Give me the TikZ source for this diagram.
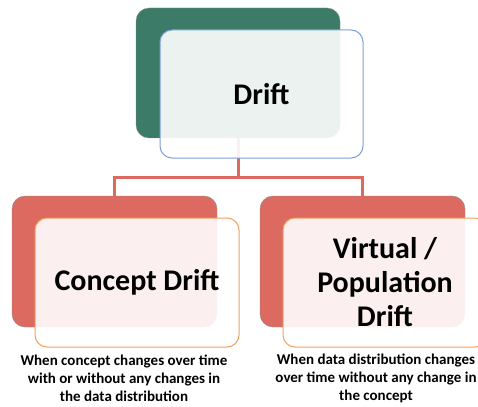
\documentclass[tikz,border=0pt]{standalone}
\usepackage{fontspec}
\setmainfont{Carlito}
\definecolor{driftgreen}{HTML}{3B7B68}
\definecolor{driftblue}{HTML}{7E9FD9}
\definecolor{driftred}{HTML}{DC6A60}
\definecolor{driftorange}{HTML}{F2A05E}
\begin{document}
\begin{tikzpicture}[x=1pt, y=-1pt,
  backbox/.style={draw=black!45, line width=0.4pt, rounded corners=13pt, inner sep=0pt},
  frontbox/.style={draw, line width=1pt, rounded corners=12pt, fill=white, fill opacity=0.9,
    text opacity=1, inner sep=0pt, align=center, font=\fontsize{30}{34}\selectfont\bfseries,
    minimum width=204pt, minimum height=129pt},
  link/.style={driftred, line width=3pt},
  caption/.style={align=center, font=\fontsize{15}{18}\selectfont\bfseries}]
  \useasboundingbox (0, 0) rectangle (478, 406);
  \clip (0, 0) rectangle (478, 406);
  \node [backbox, fill=driftgreen, minimum width=204pt, minimum height=130pt] (driftback) at (238, 73) {};
  \node [backbox, fill=driftred, minimum width=205pt, minimum height=131pt] (conceptback) at (114.5, 261.5) {};
  \node [backbox, fill=driftred, minimum width=205pt, minimum height=131pt] (virtualback) at (362.5, 261.5) {};
  \coordinate (fork) at (238, 177);
  \draw [link] (driftback.south) -- (fork);
  \draw [link] (fork) -| (conceptback.north);
  \draw [link] (fork) -| (virtualback.north);
  \node [frontbox, draw=driftblue, minimum width=203pt, minimum height=128pt] (drift) at (261.5, 94) {Drift};
  \node [frontbox, draw=driftorange] (concept) at (137, 282.5) {Concept Drift};
  \node [frontbox, draw=driftorange] (virtual) at (385, 282.5) {Virtual /\\Population\\Drift};
  \node [caption] (conceptnote) at (124, 378) {When concept changes over time\\with or without any changes in\\the data distribution};
  \node [caption] (virtualnote) at (376, 378) {When data distribution changes\\over time without any change in\\the concept};
\end{tikzpicture}
\end{document}
